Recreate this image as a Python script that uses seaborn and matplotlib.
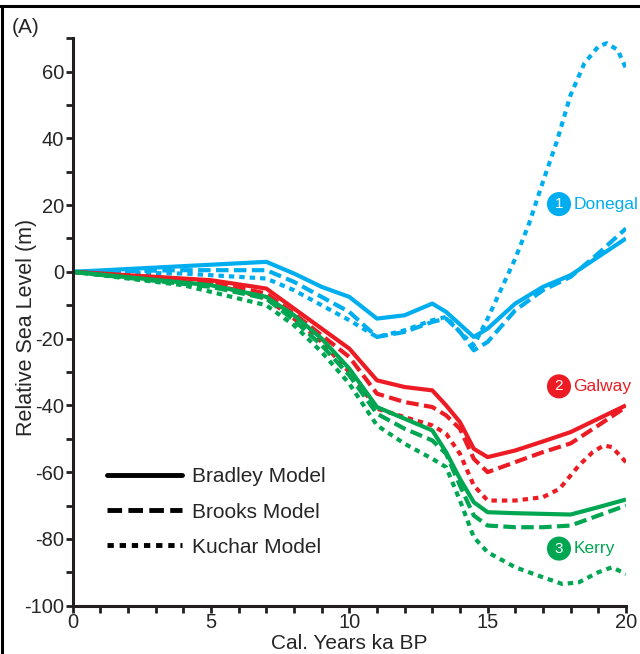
import matplotlib
matplotlib.use('Agg')
import matplotlib.pyplot as plt
from matplotlib.lines import Line2D
from matplotlib.ticker import MultipleLocator
import seaborn as sns
import pandas as pd

# --- data (Cal. ka BP vs relative sea level, m) ---
donegal_bradley_x = [0, 7, 8, 9, 10, 11, 12, 13, 13.5, 14.5, 15, 16, 17, 18, 19, 20]
donegal_bradley_y = [0, 3, -0.5, -4.5, -7.5, -14, -13, -9.5, -12, -19.5, -17, -9.5, -4.5, -1, 4.5, 10]

donegal_brooks_x = [0, 4, 7, 8, 9, 10, 11, 12, 13, 13.5, 14, 14.5, 15, 16, 17, 18, 19, 20]
donegal_brooks_y = [0, 0.5, 0.5, -3, -7.5, -12, -19.5, -18, -15, -14, -18, -23.5, -21, -11.5, -5.5, -1.5, 5.5, 13]

donegal_kuchar_x = [0, 4, 7, 8, 9, 10, 11, 12, 13, 13.5, 14, 14.5, 15, 15.5, 16, 16.5,
                    17, 17.5, 18, 18.5, 19, 19.3, 19.7, 20]
donegal_kuchar_y = [0, -0.5, -2, -5.5, -10, -14.5, -19.5, -17.5, -14.5, -13.5, -18, -22, -14, -5, 4, 14.5,
                    27, 39, 53, 62.5, 67.5, 68.5, 66.5, 61]

galway_bradley_x = [0, 5, 7, 8, 9, 10, 11, 12, 13, 13.5, 14, 14.5, 15, 16, 17, 18, 19, 20]
galway_bradley_y = [0, -2.5, -5, -11, -17, -23, -32.5, -34.5, -35.5, -40, -45, -53, -55.5, -53.5, -50.8, -48, -44, -40]

galway_brooks_x = [0, 5, 7, 8, 9, 10, 11, 12, 13, 13.5, 14, 14.5, 15, 16, 17, 18, 19, 20]
galway_brooks_y = [0, -3, -6.5, -12.5, -19, -25.5, -36.5, -39, -40.5, -43, -47, -56, -60, -57, -54, -51.4, -46, -40.5]

galway_kuchar_x = [0, 5, 7, 8, 9, 10, 11, 12, 13, 13.5, 14, 14.5, 15, 16, 17, 17.6, 18.3, 18.8, 19.2, 19.5, 20]
galway_kuchar_y = [0, -3.5, -8, -14, -21, -30, -41, -43.5, -46, -48.5, -54.5, -64, -68.5, -68.5, -67.5, -65,
                   -58, -54, -52, -52.5, -57]

kerry_bradley_x = [0, 5, 7, 8, 9, 10, 11, 12, 13, 13.5, 14, 14.5, 15, 16, 17, 18, 19, 20]
kerry_bradley_y = [0, -4, -7.5, -13, -20, -29, -40.5, -44, -47.5, -54, -62, -69, -72, -72.3, -72.5, -72.7, -70.5, -68.2]

kerry_brooks_x = [0, 5, 7, 8, 9, 10, 11, 12, 13, 13.5, 14, 14.5, 15, 16, 17, 18, 19, 20]
kerry_brooks_y = [0, -4.5, -8, -14.5, -22, -31, -42.5, -47, -50.5, -54.5, -64, -73, -76, -76.5, -76.5, -76, -73, -70]

kerry_kuchar_x = [0, 4, 7, 8, 9, 10, 11, 12, 13, 13.5, 14, 14.5, 15, 16, 17, 17.7, 18.3, 19, 19.5, 20]
kerry_kuchar_y = [0, -4, -10, -16, -24, -33.5, -46, -51.5, -56, -58.5, -68.5, -79.5, -84, -88.5, -91.5, -93.5,
                  -93, -90, -88.5, -90.5]

sites = ['Donegal', 'Galway', 'Kerry']
models = ['Bradley Model', 'Brooks Model', 'Kuchar Model']
site_label_y = [20.3, -34.3, -82.9]

# --- styling ---
BLUE = '#00AEEF'
RED = '#ED1C24'
GREEN = '#00A651'
site_colors = {'Donegal': BLUE, 'Galway': RED, 'Kerry': GREEN}
model_styles = {
    'Bradley Model': '-',
    'Brooks Model': (0, (3, 1.3)),
    'Kuchar Model': (0, (1.3, 1.2)),
}

series = {
    ('Donegal', 'Bradley Model'): (donegal_bradley_x, donegal_bradley_y),
    ('Donegal', 'Brooks Model'): (donegal_brooks_x, donegal_brooks_y),
    ('Donegal', 'Kuchar Model'): (donegal_kuchar_x, donegal_kuchar_y),
    ('Galway', 'Bradley Model'): (galway_bradley_x, galway_bradley_y),
    ('Galway', 'Brooks Model'): (galway_brooks_x, galway_brooks_y),
    ('Galway', 'Kuchar Model'): (galway_kuchar_x, galway_kuchar_y),
    ('Kerry', 'Bradley Model'): (kerry_bradley_x, kerry_bradley_y),
    ('Kerry', 'Brooks Model'): (kerry_brooks_x, kerry_brooks_y),
    ('Kerry', 'Kuchar Model'): (kerry_kuchar_x, kerry_kuchar_y),
}

sns.set_style('ticks')
plt.rcParams['font.family'] = ['Liberation Sans', 'DejaVu Sans']
plt.rcParams['axes.unicode_minus'] = False

fig = plt.figure(figsize=(6.4, 6.54), dpi=100)
ax = fig.add_axes([0.1136, 0.0739, 0.8644, 0.8677])

for (site, model), (xs, ys) in series.items():
    df = pd.DataFrame({'age': xs, 'rsl': ys})
    sns.lineplot(data=df, x='age', y='rsl', ax=ax, color=site_colors[site],
                 linestyle=model_styles[model], linewidth=3.0,
                 estimator=None, sort=False, legend=False,
                 dash_capstyle='butt', solid_capstyle='butt')

# site labels: filled circle with number, then name
for i, site in enumerate(sites):
    ax.text(17.58, site_label_y[i], str(i + 1), color='white', fontsize=11,
            ha='center', va='center', clip_on=False,
            bbox=dict(boxstyle='circle,pad=0.33', fc=site_colors[site], ec='none'))
    ax.text(18.1, site_label_y[i], site, color=site_colors[site], fontsize=12.5,
            ha='left', va='center', clip_on=False)

# legend in black
handles = [Line2D([0], [0], color='black', lw=3.5, linestyle=model_styles[m],
                  dash_capstyle='butt') for m in models]
ax.legend(handles, models, loc='center left', bbox_to_anchor=(0.062, 0.165),
          frameon=False, fontsize=15, handlelength=3.6, handletextpad=0.5,
          labelspacing=0.78, borderpad=0, borderaxespad=0)

ax.set_xlim(0, 20)
ax.set_ylim(-100, 70)
ax.xaxis.set_major_locator(MultipleLocator(5))
ax.xaxis.set_minor_locator(MultipleLocator(1))
ax.yaxis.set_major_locator(MultipleLocator(20))
ax.yaxis.set_minor_locator(MultipleLocator(10))
ax.set_yticks([-100, -80, -60, -40, -20, 0, 20, 40, 60])
ax.tick_params(which='both', direction='out', length=5, width=2, color='#231F20',
               labelsize=14.5, pad=1)
ax.tick_params(axis='x', pad=0)
ax.set_xlabel('Cal. Years ka BP', fontsize=15, va='top')
ax.set_ylabel('Relative Sea Level (m)', fontsize=15.5, va='center')
ax.xaxis.set_label_coords(0.5, -0.05)
ax.yaxis.set_label_coords(-0.083, 0.49)
sns.despine(ax=ax)
for side in ['left', 'bottom']:
    ax.spines[side].set_linewidth(2.2)
    ax.spines[side].set_color('#231F20')

# panel tag and the border of the original panel
fig.text(0.019, 0.958, '(A)', fontsize=15, ha='left', va='center')
fig.add_artist(Line2D([0.003, 0.003], [0, 0.991], color='black', lw=2.2,
                      transform=fig.transFigure))
fig.add_artist(Line2D([0, 1], [0.9905, 0.9905], color='black', lw=2.2,
                      transform=fig.transFigure))

fig.savefig('out.png', dpi=100)
